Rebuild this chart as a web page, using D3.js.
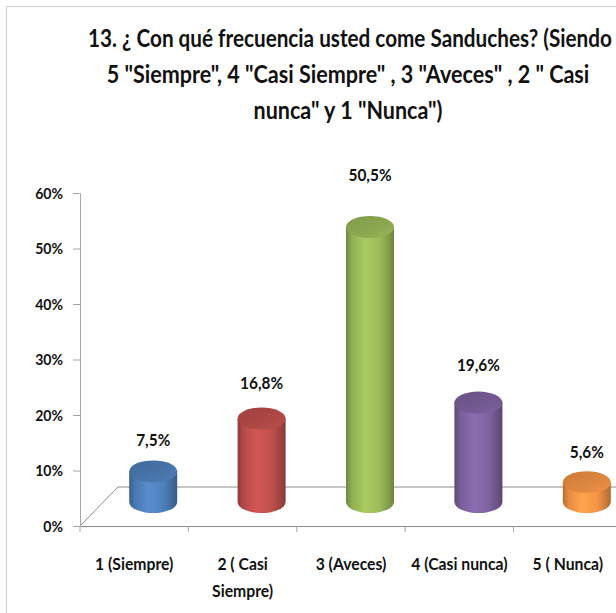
<!DOCTYPE html>
<html>
<head>
<meta charset="utf-8">
<script src="https://cdn.jsdelivr.net/npm/d3@7/dist/d3.min.js"></script>
<style>
  html, body { margin: 0; padding: 0; background: #fff; }
  svg { display: block; }
  text { font-family: Lato, "Open Sans", "Liberation Sans", sans-serif; font-weight: bold; fill: #111; }
</style>
</head>
<body>
<svg id="chart" width="616" height="613"></svg>
<script>
// Survey question 13: how often sandwiches are eaten
const titleLines = [
  '13. ¿ Con qué frecuencia usted come Sanduches? (Siendo',
  '5 "Siempre", 4 "Casi Siempre" , 3 "Aveces" , 2 " Casi',
  'nunca" y 1 "Nunca")'
];
const categories = ['1 (Siempre)', '2 ( Casi Siempre)', '3 (Aveces)', '4 (Casi nunca)', '5 ( Nunca)'];
const categoryLines = [['1 (Siempre)'], ['2 ( Casi', 'Siempre)'], ['3 (Aveces)'], ['4 (Casi nunca)'], ['5 ( Nunca)']];
const values = [7.5, 16.8, 50.5, 19.6, 5.6];
const valueLabels = ['7,5%', '16,8%', '50,5%', '19,6%', '5,6%'];
const yTicks = [0, 10, 20, 30, 40, 50, 60];
const colors = ['#4F81BD', '#C0504D', '#9BBB59', '#8064A2', '#F79646'];

const svg = d3.select('#chart');
const defs = svg.append('defs');

// chart frame (right and bottom edges fall outside the view)
svg.append('rect')
  .attr('x', 6.5).attr('y', 6.5).attr('width', 700).attr('height', 700)
  .attr('fill', '#fff').attr('stroke', '#d4d4d4').attr('stroke-width', 1.2);

// place a label at (px, py) and squeeze it horizontally, like a narrow office font
function narrowText(parent, str, px, py, size, anchor, opts) {
  const g = parent.append('g');
  const t = g.append('text')
    .attr('text-anchor', anchor)
    .style('font-size', size + 'px')
    .text(str);
  if (opts && opts.dy) t.attr('dy', opts.dy);
  const w = t.node().getComputedTextLength();
  const k = opts && opts.width ? opts.width / w : (opts && opts.k) || 0.88;
  g.attr('transform', `translate(${px},${py}) scale(${k},1)`);
  return g;
}

// title
const titleWidths = [524, 483, 189];
const titleX = [350, 348, 348];
const titleY = [47, 83, 119];
titleLines.forEach((t, i) => {
  narrowText(svg, t, titleX[i], titleY[i], 24, 'middle', { width: titleWidths[i] });
});

// scales
const x = d3.scaleBand().domain(categories).range([80, 622]).paddingInner(0).paddingOuter(0);
const y = d3.scaleLinear().domain([0, 60]).range([526, 193]);        // front value axis
const yTop = d3.scaleLinear().domain([0, 60]).range([514, 173]);     // cylinder top centre
const yLabel = d3.scaleLinear().domain([0, 60]).range([492, 123]);   // data label baseline

const depth = { dx: 38, dy: -39 };   // floor depth offset
const cylShift = 19;                 // cylinder centre shift to mid depth
const rx = 24, ry = 11;
const baseY = 502;

// floor outline
const x0 = x.range()[0], x1 = 700;
svg.append('path')
  .attr('d', `M${x0},${y(0)} L${x0 + depth.dx},${y(0) + depth.dy} L${x1},${y(0) + depth.dy}`)
  .attr('fill', 'none').attr('stroke', '#8c8c8c').attr('stroke-width', 1);

// value axis: line and ticks from d3.axisLeft, labels squeezed afterwards
const yAxis = d3.axisLeft(y).tickValues(yTicks).tickSize(7).tickFormat('');
const ya = svg.append('g').attr('transform', `translate(${x0},0)`).call(yAxis);
ya.select('.domain').attr('stroke', '#a6a6a6');
ya.selectAll('.tick line').attr('stroke', '#a6a6a6');
yTicks.forEach(v => {
  narrowText(svg, v + '%', x0 - 17, y(v), 16, 'end', { k: 0.88, dy: '0.35em' });
});

// category axis
const xAxis = d3.axisBottom(x).tickSize(0).tickFormat('');
const xa = svg.append('g').attr('transform', `translate(0,${y(0)})`).call(xAxis);
xa.select('.domain').attr('stroke', '#8c8c8c');
const bounds = categories.map(c => x(c)).concat([x.range()[1]]);
xa.selectAll('line.bound').data(bounds).enter().append('line')
  .attr('class', 'bound')
  .attr('x1', d => d).attr('x2', d => d).attr('y1', 0).attr('y2', 6)
  .attr('stroke', '#a6a6a6');

categoryLines.forEach((lines, i) => {
  const cx = x(categories[i]) + x.bandwidth() / 2;
  lines.forEach((ln, j) => {
    narrowText(svg, ln, cx, 570 + j * 27, 17.5, 'middle', { k: 0.9 });
  });
});

// cylinder gradients
colors.forEach((c, i) => {
  const base = d3.color(c);
  const side = defs.append('linearGradient').attr('id', 'side' + i)
    .attr('x1', 0).attr('x2', 1).attr('y1', 0).attr('y2', 0);
  [[0, base.darker(0.9)], [0.12, base.darker(0.2)], [0.4, base.brighter(0.25)],
   [0.7, base], [0.9, base.darker(0.55)], [1, base.darker(1.0)]]
    .forEach(([o, col]) => side.append('stop').attr('offset', o).attr('stop-color', col.formatHex()));
  const top = defs.append('linearGradient').attr('id', 'top' + i)
    .attr('x1', 0).attr('x2', 1).attr('y1', 0).attr('y2', 1);
  [[0, base.darker(0.55)], [0.6, base.darker(0.3)], [1, base.darker(0.05)]]
    .forEach(([o, col]) => top.append('stop').attr('offset', o).attr('stop-color', col.formatHex()));
});

// cylinders
const bars = svg.append('g').selectAll('g.bar').data(values).enter().append('g').attr('class', 'bar');
bars.append('path')
  .attr('d', (d, i) => {
    const cx = x(categories[i]) + x.bandwidth() / 2 + cylShift;
    const ty = yTop(d);
    return `M${cx - rx},${ty} L${cx - rx},${baseY} A${rx},${ry} 0 0 0 ${cx + rx},${baseY} L${cx + rx},${ty} Z`;
  })
  .attr('fill', (d, i) => `url(#side${i})`);
bars.append('ellipse')
  .attr('cx', (d, i) => x(categories[i]) + x.bandwidth() / 2 + cylShift)
  .attr('cy', d => yTop(d))
  .attr('rx', rx).attr('ry', ry)
  .attr('fill', (d, i) => `url(#top${i})`);

// data labels
values.forEach((v, i) => {
  const cx = x(categories[i]) + x.bandwidth() / 2 + cylShift;
  narrowText(svg, valueLabels[i], cx, yLabel(v), 17.5, 'middle', { k: 0.88 });
});
</script>
</body>
</html>
